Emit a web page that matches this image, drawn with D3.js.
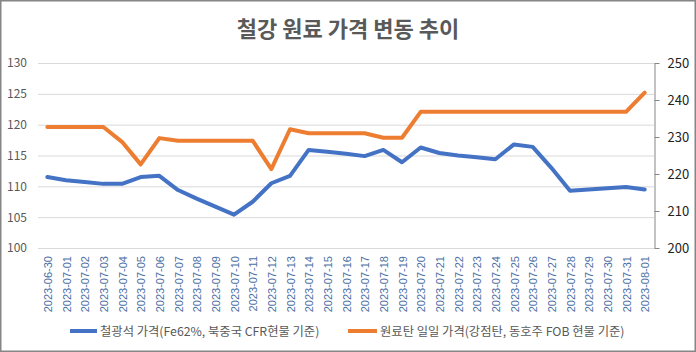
<!DOCTYPE html>
<html><head><meta charset="utf-8">
<script src="https://cdn.jsdelivr.net/npm/d3@7"></script>
<style>body{margin:0;background:#fff;}svg{display:block;}</style>
</head><body>
<svg id="c" width="696" height="352"></svg>
<script>
const dates = ["2023-06-30","2023-07-01","2023-07-02","2023-07-03","2023-07-04","2023-07-05","2023-07-06","2023-07-07","2023-07-08","2023-07-09","2023-07-10","2023-07-11","2023-07-12","2023-07-13","2023-07-14","2023-07-15","2023-07-16","2023-07-17","2023-07-18","2023-07-19","2023-07-20","2023-07-21","2023-07-22","2023-07-23","2023-07-24","2023-07-25","2023-07-26","2023-07-27","2023-07-28","2023-07-29","2023-07-30","2023-07-31","2023-08-01"];
const ironOre = [111.5,111.0,110.7,110.4,110.4,111.5,111.7,109.4,108.0,106.7,105.4,107.5,110.5,111.7,115.9,115.6,115.3,114.9,115.9,113.9,116.3,115.4,115.0,114.7,114.4,116.8,116.4,113.0,109.3,109.5,109.7,109.9,109.5];
const coal = [232.7,232.7,232.7,232.7,228.7,222.6,229.7,229.0,229.0,229.0,229.0,229.0,221.3,232.1,231.0,231.0,231.0,231.0,229.8,229.8,236.8,236.8,236.8,236.8,236.8,236.8,236.8,236.8,236.8,236.8,236.8,236.8,242.0];
const leftTicks = [100,105,110,115,120,125,130];
const rightTicks = [200,210,220,230,240,250];
const title = "철강 원료 가격 변동 추이";
const seriesNames = ["철광석 가격(Fe62%, 북중국 CFR현물 기준)","원료탄 일일 가격(강점탄, 동호주 FOB 현물 기준)"];
const colors = ["#4472C4","#ED7D31"];

const svg = d3.select("#c");
const font = "'Noto Sans CJK KR','Noto Sans',sans-serif";
const L = 38, R = 654, T = 63, B = 248;

svg.append("rect").attr("x",0.75).attr("y",0.75).attr("width",694.5).attr("height",350.5)
  .attr("fill","#fff").attr("stroke","#868686").attr("stroke-width",1.5);

const x = d3.scalePoint().domain(dates).range([L,R]).padding(0.5);
const yL = d3.scaleLinear().domain([100,130]).range([B,T]);
const yR = d3.scaleLinear().domain([200,250]).range([B,T]);

// gridlines
svg.append("g").selectAll("line").data(leftTicks).join("line")
  .attr("x1",L).attr("x2",R).attr("y1",d=>yL(d)+0.5).attr("y2",d=>yL(d)+0.5)
  .attr("stroke","#d9d9d9").attr("stroke-width",1);

// left axis
const gl = svg.append("g").attr("transform",`translate(${L},0)`)
  .call(d3.axisLeft(yL).tickValues(leftTicks).tickSize(0).tickPadding(11));
gl.select(".domain").remove();
gl.selectAll("text").attr("font-family",font).attr("font-size",12).attr("fill","#595959");

// right axis
const gr = svg.append("g").attr("transform",`translate(${R+0.5},0)`)
  .call(d3.axisRight(yR).tickValues(rightTicks).tickSize(5).tickSizeOuter(0).tickPadding(8));
gr.select(".domain").attr("stroke","#868686");
gr.selectAll(".tick line").attr("stroke","#868686");
gr.selectAll("text").attr("font-family",font).attr("font-size",13).attr("fill","#222");

// x axis
const gx = svg.append("g").attr("transform",`translate(0,${B})`)
  .call(d3.axisBottom(x).tickSize(0).tickPadding(0));
gx.select(".domain").remove();
gx.selectAll("text").attr("font-family","'Liberation Sans',Arial,sans-serif").attr("font-size",11).attr("fill","#4a6fa5")
  .attr("text-anchor","end").attr("dy",null)
  .attr("transform","translate(4,8) rotate(-90)");

// lines
const lineL = d3.line().x((d,i)=>x(dates[i])).y(d=>yL(d));
const lineR = d3.line().x((d,i)=>x(dates[i])).y(d=>yR(d));
svg.append("path").datum(coal).attr("d",lineR).attr("fill","none").attr("stroke",colors[1])
  .attr("stroke-width",4).attr("stroke-linejoin","round").attr("stroke-linecap","round");
svg.append("path").datum(ironOre).attr("d",lineL).attr("fill","none").attr("stroke",colors[0])
  .attr("stroke-width",4).attr("stroke-linejoin","round").attr("stroke-linecap","round");

// title
svg.append("text").attr("x",348).attr("y",37).attr("text-anchor","middle")
  .attr("font-family",font).attr("font-weight","bold").attr("font-size",22).attr("fill","#595959").text(title);

// legend
const leg = [{x1:70,x2:97,tx:100},{x1:348,x2:377,tx:380}];
leg.forEach((p,i)=>{
  svg.append("line").attr("x1",p.x1).attr("x2",p.x2).attr("y1",331).attr("y2",331)
    .attr("stroke",colors[i]).attr("stroke-width",4);
  svg.append("text").attr("x",p.tx).attr("y",335.5).attr("font-family",font).attr("font-size",12.3)
    .attr("fill","#595959").text(seriesNames[i]);
});
</script>
</body></html>
